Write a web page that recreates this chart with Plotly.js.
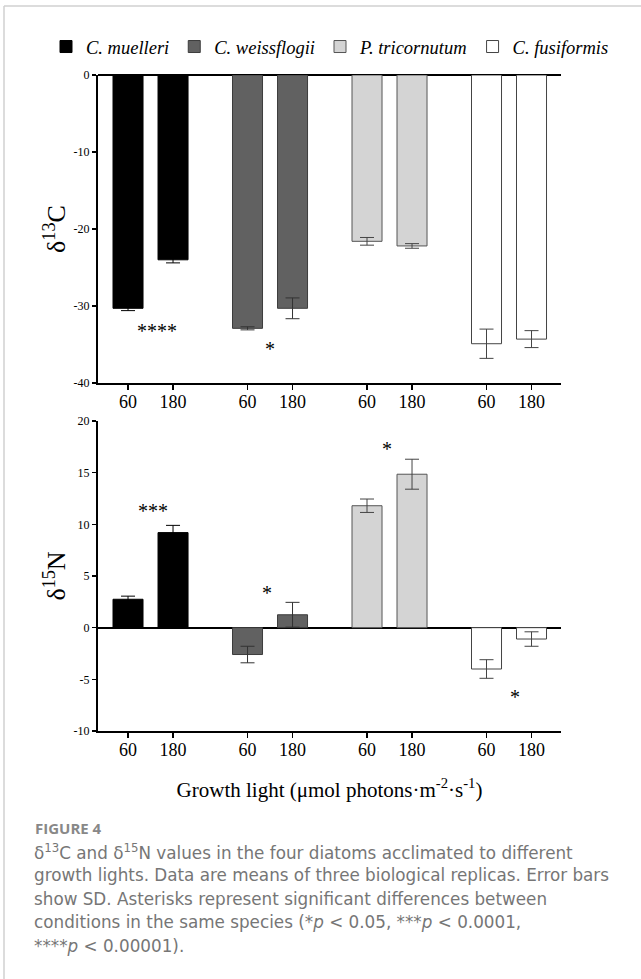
<!DOCTYPE html>
<html>
<head>
<meta charset="utf-8">
<script src="https://cdn.plot.ly/plotly-3.0.1.min.js"></script>
<style>html,body{margin:0;padding:0;background:#fff;}#chart{width:641px;height:979px;}</style>
</head>
<body>
<div id="chart"></div>
<script>
// ---- data ----
const species = ['C. muelleri', 'C. weissflogii', 'P. tricornutum', 'C. fusiformis'];
const lightLabels = ['60', '180'];
// order: species 0 (60,180), species 1 (60,180), ...
const d13C    = [-30.3, -24.0, -32.9, -30.3, -21.6, -22.2, -34.9, -34.3];
const d13C_sd = [0.3, 0.4, 0.2, 1.35, 0.5, 0.3, 1.9, 1.1];
const d15N    = [2.75, 9.2, -2.6, 1.25, 11.8, 14.85, -4.0, -1.1];
const d15N_sd = [0.3, 0.7, 0.8, 1.2, 0.65, 1.45, 0.9, 0.7];
const sigC = ['****', '*', '', ''];
const sigN = ['***', '*', '*', '*'];
const yTicksC = [0, -10, -20, -30, -40];
const yTicksN = [20, 15, 10, 5, 0, -5, -10];

// ---- styling ----
const fills = ['#000000', '#616161', '#d4d4d4', '#ffffff'];
const lines = ['#000000', '#3c3c3c', '#555555', '#444444'];
const errCol = ['#000000', '#333333', '#444444', '#444444'];

const W = 641, H = 979;
const groupStep = 2.655, barStep = 1.0, barW = 0.667;
const xRange = [-0.667, 9.62];
const pos = [];
species.forEach((s, g) => lightLabels.forEach((l, i) => pos.push(g * groupStep + i * barStep)));
const tickText = [];
species.forEach(() => lightLabels.forEach(l => tickText.push(l)));

const traces = [];
species.forEach((s, g) => {
  const xs = pos.slice(2 * g, 2 * g + 2);
  traces.push({
    type: 'bar', name: s, x: xs, y: d13C.slice(2 * g, 2 * g + 2),
    width: barW, xaxis: 'x', yaxis: 'y',
    marker: {color: fills[g], line: {color: lines[g], width: 1}},
    error_y: {type: 'data', array: d13C_sd.slice(2 * g, 2 * g + 2), visible: true,
              color: errCol[g], thickness: 1, width: 7},
    legendgroup: s, showlegend: true, hoverinfo: 'skip'
  });
});
species.forEach((s, g) => {
  const xs = pos.slice(2 * g, 2 * g + 2);
  traces.push({
    type: 'bar', name: s, x: xs, y: d15N.slice(2 * g, 2 * g + 2),
    width: barW, xaxis: 'x2', yaxis: 'y2',
    marker: {color: fills[g], line: {color: lines[g], width: 1}},
    error_y: {type: 'data', array: d15N_sd.slice(2 * g, 2 * g + 2), visible: true,
              color: errCol[g], thickness: 1, width: 7},
    legendgroup: s, showlegend: false, hoverinfo: 'skip'
  });
});

const px = v => v / W;
const py = v => 1 - v / H;

const serif = 'Liberation Serif, Times New Roman, serif';
const sans = 'DejaVu Sans, Open Sans, sans-serif';

const xCommon = {
  range: xRange, tickmode: 'array', tickvals: pos, ticktext: tickText,
  ticks: 'outside', ticklen: 5, tickwidth: 1.5, tickcolor: '#000', ticklabelstandoff: -4,
  showline: true, linecolor: '#000', linewidth: 2, showgrid: false, zeroline: false,
  tickfont: {family: serif, size: 18, color: '#000'}, fixedrange: true
};
const yCommon = {
  ticks: 'outside', ticklen: 4, tickwidth: 1.5, tickcolor: '#000', tickmode: 'array',
  showline: true, linecolor: '#000', linewidth: 2, showgrid: false,
  zeroline: true, zerolinecolor: '#000', zerolinewidth: 2,
  tickfont: {family: serif, size: 12, color: '#000'}, fixedrange: true
};
const hy = v => String(v).replace('\u2212', '-');

// asterisk annotations (x in bar units, y in data units)
const annots = [];
const sigCpos = [[0.65, -33.2], [3.155, -35.6]];
const sigNpos = [[0.56, 11.3], [3.09, 3.4], [5.76, 17.3], [8.6, -6.7]];
sigC.forEach((t, g) => { if (t) annots.push({xref: 'x', yref: 'y', x: sigCpos[g][0], y: sigCpos[g][1], text: t, showarrow: false, font: {family: serif, size: 20, color: '#000'}}); });
sigN.forEach((t, g) => { if (t) annots.push({xref: 'x2', yref: 'y2', x: sigNpos[g][0], y: sigNpos[g][1], text: t, showarrow: false, font: {family: serif, size: 20, color: '#000'}}); });

// caption
const caption = [
  'δ<sup>13</sup>C and δ<sup>15</sup>N values in the four diatoms acclimated to different',
  'growth lights. Data are means of three biological replicas. Error bars',
  'show SD. Asterisks represent significant differences between',
  'conditions in the same species (*<i>p</i> &lt; 0.05, ***<i>p</i> &lt; 0.0001,',
  '****<i>p</i> &lt; 0.00001).'
];
annots.push({xref: 'paper', yref: 'paper', x: px(33), y: py(828), xanchor: 'left', yanchor: 'middle',
  text: 'FIGURE 4', showarrow: false, font: {family: 'Open Sans, sans-serif', size: 15, color: '#888888', weight: 700}});
caption.forEach((t, i) => annots.push({xref: 'paper', yref: 'paper', x: px(32), y: py(852 + i * 23.4),
  xanchor: 'left', yanchor: 'middle', text: t, showarrow: false,
  font: {family: sans, size: 16.8, color: '#767676'}}));

const layout = {
  width: W, height: H, margin: {l: 0, r: 0, t: 0, b: 0},
  paper_bgcolor: '#fff', plot_bgcolor: '#fff', barmode: 'overlay',
  showlegend: true,
  legend: {orientation: 'h', x: px(46), y: py(47), xanchor: 'left', yanchor: 'middle',
           font: {family: serif, size: 18.5, color: '#000', style: 'italic'},
           bgcolor: 'rgba(0,0,0,0)', traceorder: 'normal'},
  xaxis: Object.assign({}, xCommon, {domain: [px(98), px(561)], anchor: 'y'}),
  yaxis: Object.assign({}, yCommon, {domain: [py(383), py(75)], anchor: 'x', range: [-40, 0],
    tickvals: yTicksC, ticktext: yTicksC.map(hy),
    title: {text: 'δ<sup>13</sup>C', font: {family: serif, size: 26, color: '#000'}, standoff: 0}}),
  xaxis2: Object.assign({}, xCommon, {domain: [px(98), px(561)], anchor: 'y2',
    title: {text: 'Growth light (μmol photons·m<sup>-2</sup>·s<sup>-1</sup>)', font: {family: serif, size: 21, color: '#000'}, standoff: 24}}),
  yaxis2: Object.assign({}, yCommon, {domain: [py(731), py(421)], anchor: 'x2', range: [-10, 20],
    tickvals: yTicksN, ticktext: yTicksN.map(hy),
    title: {text: 'δ<sup>15</sup>N', font: {family: serif, size: 26, color: '#000'}, standoff: 0}}),
  annotations: annots,
  shapes: [
    {type: 'line', xref: 'paper', yref: 'paper', x0: px(4), x1: 1, y0: py(6), y1: py(6), line: {color: '#d0d0d0', width: 1.5}},
    {type: 'line', xref: 'paper', yref: 'paper', x0: px(4), x1: px(4), y0: py(6), y1: 0, line: {color: '#d0d0d0', width: 1.5}}
  ]
};

Plotly.newPlot('chart', traces, layout, {staticPlot: true, displayModeBar: false});
</script>
</body>
</html>
